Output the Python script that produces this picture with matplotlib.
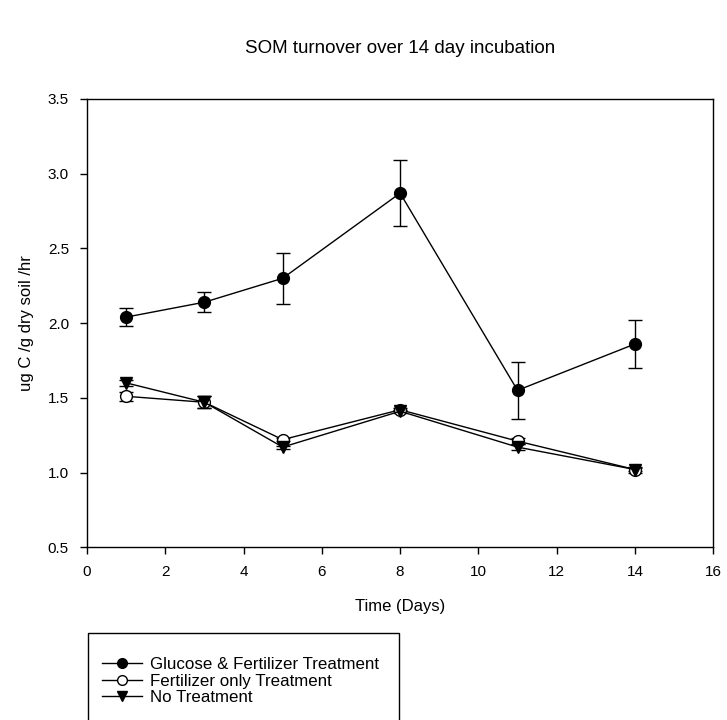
import matplotlib
matplotlib.use('Agg')
import matplotlib.pyplot as plt
from matplotlib.lines import Line2D
from matplotlib.patches import Rectangle
from matplotlib.ticker import FormatStrFormatter

plt.rcParams['font.family'] = ['Liberation Sans', 'DejaVu Sans']

days = [1, 3, 5, 8, 11, 14]
glucose = [2.04, 2.14, 2.30, 2.87, 1.55, 1.86]
glucose_err = [0.06, 0.065, 0.17, 0.22, 0.19, 0.16]
fert = [1.51, 1.47, 1.22, 1.42, 1.21, 1.02]
fert_err = [0.03, 0.04, 0.01, 0.01, 0.02, 0.01]
none = [1.60, 1.47, 1.17, 1.41, 1.17, 1.02]
none_err = [0.02, 0.04, 0.01, 0.01, 0.02, 0.02]

labels = ['Glucose & Fertilizer Treatment', 'Fertilizer only Treatment', 'No Treatment']
markers = ['o', 'o', 'v']
faces = ['black', 'white', 'black']

fig = plt.figure(figsize=(7.27, 7.2), dpi=100)
ax = fig.add_axes([0.1197, 0.240, 0.8613, 0.6225])

for y, e, m, fc in zip([glucose, fert, none], [glucose_err, fert_err, none_err], markers, faces):
    ax.errorbar(days, y, yerr=e, color='black', lw=1, marker=m, ms=8.5,
                mfc=fc, mec='black', capsize=5, elinewidth=1, capthick=1)

ax.set_xlim(0, 16)
ax.set_ylim(0.5, 3.5)
ax.set_xticks(range(0, 17, 2))
ax.set_yticks([0.5, 1.0, 1.5, 2.0, 2.5, 3.0, 3.5])
ax.yaxis.set_major_formatter(FormatStrFormatter('%.1f'))
ax.tick_params(direction='out', length=5, width=1, labelsize=11, pad=8)
for s in ax.spines.values():
    s.set_linewidth(1)

ax.set_xlabel('Time (Days)', fontsize=12, labelpad=14)
ax.set_ylabel('ug C /g dry soil /hr', fontsize=12, labelpad=10)
fig.text(0.55, 0.933, 'SOM turnover over 14 day incubation', fontsize=13.5,
         ha='center', va='center')

# legend box below the axes, running off the bottom edge
fig.add_artist(Rectangle((88 / 727, -0.02), (399 - 88) / 727, (720 - 633) / 720 + 0.02,
                         transform=fig.transFigure, fill=False, edgecolor='black', lw=1))
handles = [Line2D([], [], color='black', lw=1, marker=m, ms=7, mfc=fc, mec='black')
           for m, fc in zip(markers, faces)]
fig.legend(handles, labels, loc='upper left', bbox_to_anchor=(0.140, 0.088),
           fontsize=12.2, frameon=False, handlelength=2.4, handletextpad=0.45,
           borderpad=0, borderaxespad=0, labelspacing=0.11)

fig.savefig('out.png', dpi=100)
